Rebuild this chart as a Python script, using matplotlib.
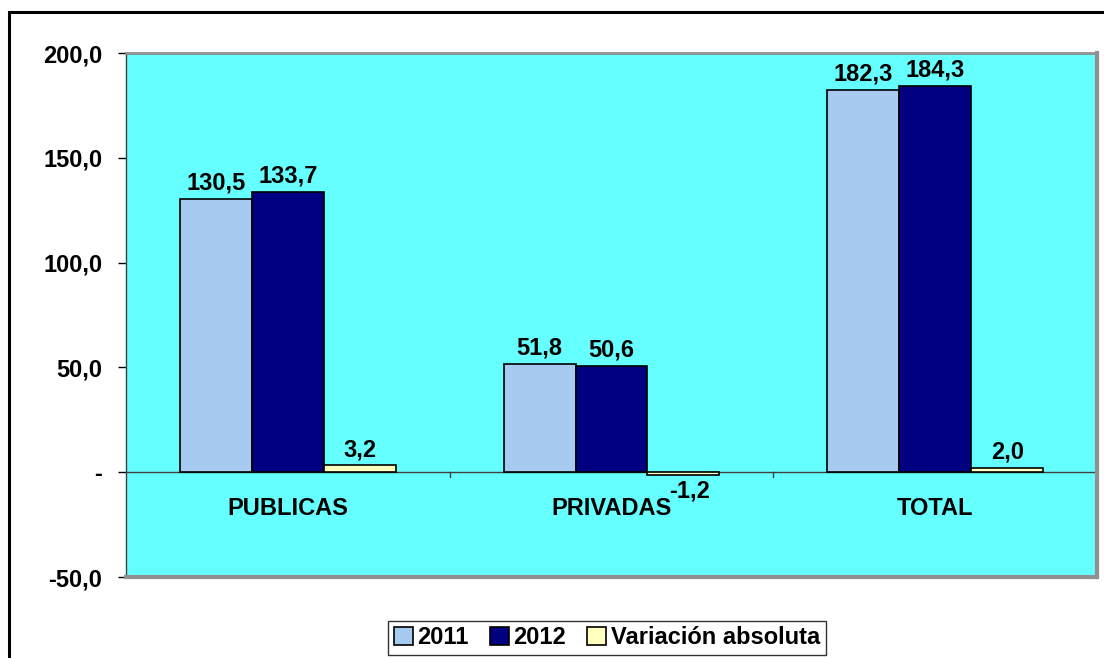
import matplotlib
matplotlib.use("Agg")
import matplotlib.pyplot as plt
from matplotlib.patches import Rectangle
import numpy as np

categories = ["PUBLICAS", "PRIVADAS", "TOTAL"]
series_names = ["2011", "2012", "Variación absoluta"]
v2011 = [130.5, 51.8, 182.3]
v2012 = [133.7, 50.6, 184.3]
vvar = [3.2, -1.2, 2.0]
yticks = [-50, 0, 50, 100, 150, 200]
ytick_labels = ["-50,0", "-", "50,0", "100,0", "150,0", "200,0"]
colors = ["#A6CAF0", "#000080", "#FFFFC0"]

plt.rcParams['font.family'] = ['Liberation Sans', 'DejaVu Sans']
FS = 17
W, H = 1104, 658
fig = plt.figure(figsize=(W / 100, H / 100), dpi=100)
ax = fig.add_axes([126 / W, 1 - 577 / H, (1097 - 126) / W, (577 - 53) / H])
ax.set_facecolor("#66FFFF")

x = np.arange(len(categories))
bw = 0.667 / 3
data = [v2011, v2012, vvar]
for i, (vals, c, name) in enumerate(zip(data, colors, series_names)):
    pos = x + (i - 1) * bw
    ax.bar(pos, vals, width=bw, color=c, edgecolor="black", linewidth=1.2, label=name, zorder=3)
    for p, v in zip(pos, vals):
        txt = f"{v:.1f}".replace(".", ",")
        if v >= 0:
            ax.text(p, v + 2.0, txt, ha="center", va="bottom", fontsize=FS, fontweight="bold", zorder=4)
        else:
            ax.text(p + 0.02, v - 2.5, txt, ha="center", va="top", fontsize=FS, fontweight="bold", zorder=4)

ax.set_xlim(-0.5, 2.5)
ax.set_ylim(-50, 200)
ax.set_yticks(yticks)
ax.set_yticklabels(ytick_labels, fontsize=FS, fontweight="bold")
ax.tick_params(axis="y", direction="out", length=6, width=1, color="black", pad=11)
ax.set_xticks([])

# zero axis line with category boundary ticks
ax.axhline(0, color="#404040", linewidth=1, zorder=2)
for b in [0.5, 1.5]:
    ax.plot([b, b], [0, -2.5], color="#404040", linewidth=1, zorder=2)
for xi, cat in zip(x, categories):
    ax.text(xi, -17.5, cat, ha="center", va="center", fontsize=FS, fontweight="bold")

for side in ["top", "right", "bottom"]:
    ax.spines[side].set_color("#909090")
ax.spines["top"].set_linewidth(2)
ax.spines["right"].set_linewidth(3)
ax.spines["bottom"].set_linewidth(3)
ax.spines["left"].set_color("#404040")
ax.spines["left"].set_linewidth(1)

leg = fig.legend(loc="center", bbox_to_anchor=(607 / W, 1 - 638 / H), ncol=3,
                 prop={"size": FS, "weight": "bold"}, frameon=True, fancybox=False,
                 handlelength=0.8, handleheight=0.8, handletextpad=0.2, columnspacing=0.9,
                 borderpad=0.25, borderaxespad=0)
leg.get_frame().set_edgecolor("black")
leg.get_frame().set_linewidth(1)

# outer figure frame
fig.patches.append(Rectangle((9 / W, -0.05), 1.1, 1 - 12 / H + 0.05, transform=fig.transFigure,
                             fill=False, edgecolor="black", linewidth=2.2))

fig.savefig("out.png", dpi=100)
